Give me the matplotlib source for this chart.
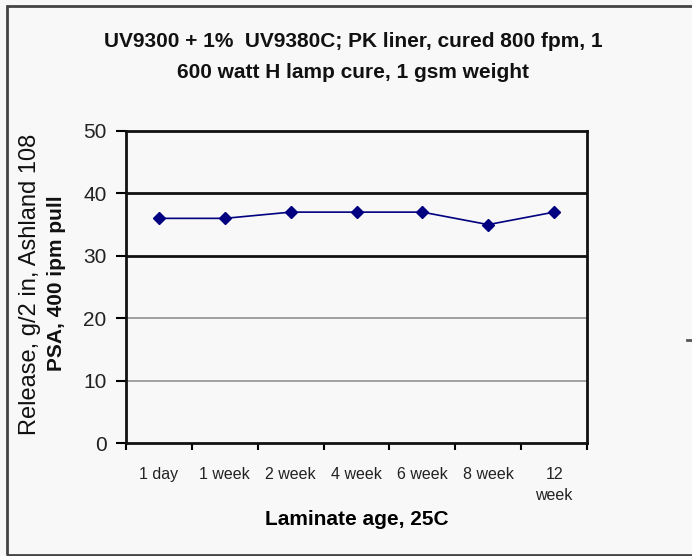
import matplotlib

matplotlib.use("Agg")
import matplotlib.pyplot as plt
from matplotlib.patches import Rectangle
from matplotlib.lines import Line2D

# data
ages = ["1 day", "1 week", "2 week", "4 week", "6 week", "8 week", "12\nweek"]
release = [36, 36, 37, 37, 37, 35, 37]
y_ticks = [0, 10, 20, 30, 40, 50]

BG = "#f8f8f8"
plt.rcParams["font.family"] = ["Liberation Sans", "DejaVu Sans"]

fig = plt.figure(figsize=(6.92, 5.56), dpi=100, facecolor=BG)
ax = fig.add_axes([0.1821, 0.2032, 0.6662, 0.5612], facecolor=BG)

x = list(range(len(ages)))
ax.plot(x, release, color="#000080", lw=1.2, marker="D", ms=6.5,
        mfc="#000080", mec="#000080", zorder=3)

ax.set_xlim(-0.5, len(ages) - 0.5)
ax.set_ylim(0, 50)
ax.set_yticks(y_ticks)
ax.set_yticklabels([str(v) for v in y_ticks], fontsize=15, color="#222")

# category labels centred, tick marks on category boundaries
ax.set_xticks(x)
ax.set_xticklabels(ages, fontsize=11.5, color="#222", linespacing=1.5)
ax.tick_params(axis="x", which="major", length=0, pad=17)
ax.set_xticks([i - 0.5 for i in range(len(ages) + 1)], minor=True)
ax.tick_params(axis="x", which="minor", length=5, width=1.5, direction="out")
ax.tick_params(axis="y", length=7, width=1.5, direction="out", pad=7)

# grid lines: dark for 30/40, light for 10/20
for v, c, w in [(10, "#999999", 1.3), (20, "#999999", 1.3),
                (30, "#111111", 2.0), (40, "#111111", 2.0)]:
    ax.axhline(v, color=c, lw=w, zorder=1)

for side in ("left", "bottom", "right", "top"):
    ax.spines[side].set_color("#111111")
    ax.spines[side].set_linewidth(2.0)

ax.set_xlabel("Laminate age, 25C", fontsize=15, fontweight="bold", labelpad=5)

fig.text(0.510, 0.925, "UV9300 + 1%  UV9380C; PK liner, cured 800 fpm, 1",
         ha="center", va="center", fontsize=15, fontweight="bold", color="#111")
fig.text(0.510, 0.870, "600 watt H lamp cure, 1 gsm weight",
         ha="center", va="center", fontsize=15, fontweight="bold", color="#111")

fig.text(30 / 692, 1 - 284 / 556, "Release, g/2 in, Ashland 108",
         rotation=90, ha="center", va="center", fontsize=17, color="#111")
fig.text(57 / 692, 1 - 283 / 556, "PSA, 400 ipm pull",
         rotation=90, ha="center", va="center", fontsize=15, fontweight="bold", color="#111")

# chart area border (cut off at the right edge)
fig.patches.append(Rectangle((7 / 692, 1.5 / 556), 1.0, 549 / 556, transform=fig.transFigure,
                             fill=False, edgecolor="#444444", lw=2.0))
fig.lines.append(Line2D([687 / 692, 692 / 692], [1 - 340 / 556, 1 - 340 / 556],
                        transform=fig.transFigure, color="#555", lw=2))

fig.savefig("out.png", dpi=100, facecolor=BG)
